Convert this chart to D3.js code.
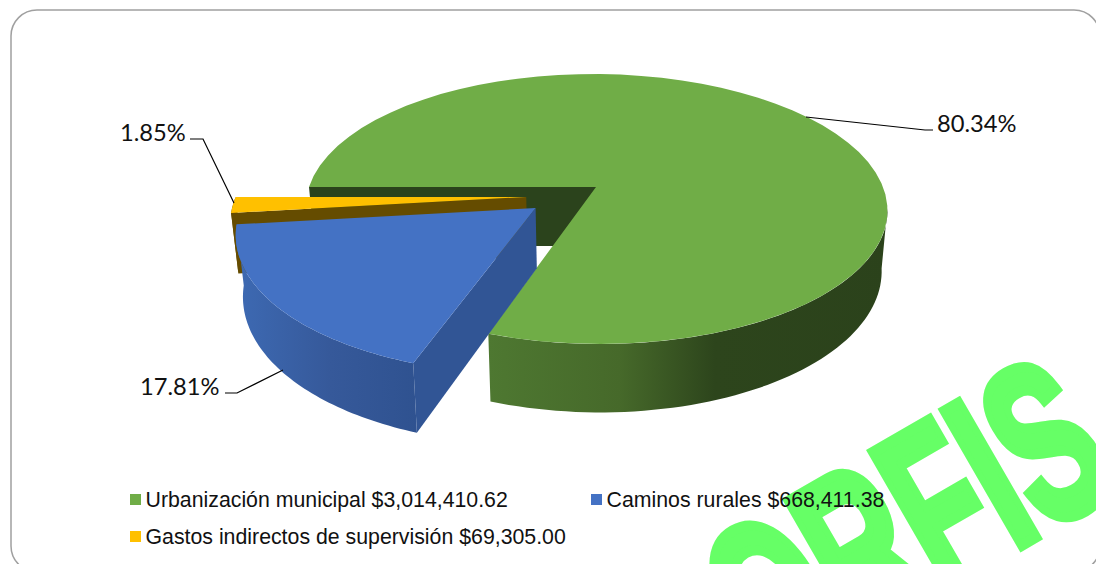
<!DOCTYPE html>
<html><head><meta charset="utf-8">
<script src="https://cdn.jsdelivr.net/npm/d3@7"></script>
<style>html,body{margin:0;padding:0;background:#fff;overflow:hidden}svg{display:block}</style>
</head><body><svg id="c" width="1096" height="564"></svg>
<script>
const categories = ["Urbanización municipal", "Caminos rurales", "Gastos indirectos de supervisión"];
const amounts = [3014410.62, 668411.38, 69305.00];
const amountLabels = ["$3,014,410.62", "$668,411.38", "$69,305.00"];
const percentLabels = ["80.34%", "17.81%", "1.85%"];
const colors = ["#70ad47", "#4472c4", "#ffc000"];
const explodeX = [0, -0.207, -0.241];
const explodeY = [0, -0.156, -0.075];

const svg = d3.select("#c");
const defs = svg.append("defs");
const CX = 596, CY = 187, R = 287, K = 131.4, P = 0.163, SHEAR = 0.027;
// perspective projection of the pie plane onto the screen
const project = (X, Y) => {
  const w = 1 + P * Y, sy = -K * Y / w;
  return [CX + R * X / w + SHEAR * sy, CY + sy];
};
const drop = ([x, y]) => [CX + (x - CX) * 0.98, CY + (y - CY) * 1.06 + 59];
const line = d3.line();
const pie = d3.pie().sort(null).startAngle(-Math.PI / 2).endAngle(Math.PI * 1.5);
const arcs = pie(amounts);

const rim = (a0, a1, ex, ey) => d3.range(0, 61).map(i => {
  const a = a0 + (a1 - a0) * i / 60;
  return project(Math.sin(a) + ex, Math.cos(a) + ey);
});
const poly = (pts, fill) => svg.append("path").attr("d", line(pts) + "Z").attr("fill", fill);
const grad = (id, stops) => {
  const g = defs.append("linearGradient").attr("id", id).attr("gradientUnits", "userSpaceOnUse")
    .attr("x1", stops[0][0]).attr("x2", stops[stops.length - 1][0]).attr("y1", 0).attr("y2", 0);
  const x0 = stops[0][0], x1 = stops[stops.length - 1][0];
  stops.forEach(s => g.append("stop").attr("offset", (s[0] - x0) / (x1 - x0)).attr("stop-color", s[1]));
  return `url(#${id})`;
};

// watermark
const wm = svg.append("g").attr("transform", "translate(766,693) rotate(-30) scale(0.6,1)");
wm.append("text").text("ORFIS").attr("font-family", "Liberation Sans, Arial, sans-serif")
  .attr("font-weight", 700).attr("font-size", 225).attr("fill", "#66ff66")
  .attr("stroke", "#66ff66").attr("stroke-width", 11).attr("stroke-linejoin", "miter");

// frame
svg.append("rect").attr("x", 11).attr("y", 10).attr("width", 1089).attr("height", 562)
  .attr("rx", 26).attr("fill", "none").attr("stroke", "#a0a0a0").attr("stroke-width", 1.5);

// green slice
const g = arcs[0];
const gStart = g.startAngle, gEnd = g.endAngle;
const apex0 = project(0, 0);
const backEdge = project(Math.sin(gStart), Math.cos(gStart));
poly([apex0, backEdge, drop(backEdge), drop(apex0)], "#2b431c");
const gSideTop = rim(Math.PI * 0.55, gEnd, 0, 0);
poly(gSideTop.concat(gSideTop.map(drop).reverse()),
  grad("gs", [[488, "#4e7831"], [620, "#46692a"], [715, "#2d451c"], [890, "#2b421b"]]));
poly([apex0].concat(rim(gStart, gEnd, 0, 0)), colors[0]);

// yellow slice
const y = arcs[2], ye = [explodeX[2], explodeY[2]];
const yApex = project(ye[0], ye[1]);
const yRim = rim(y.startAngle, y.endAngle, ye[0], ye[1]);
poly([yApex, yRim[0], drop(yRim[0]), drop(yApex)], "#654c00");
poly(yRim.concat(yRim.map(drop).reverse()), "#654c00");
poly([yApex].concat(yRim), colors[2]);

// blue slice
const b = arcs[1], be = [explodeX[1], explodeY[1]];
const bApex = project(be[0], be[1]);
const bRim = rim(b.startAngle, b.endAngle, be[0], be[1]);
poly(bRim.concat(bRim.map(drop).reverse()),
  grad("bs", [[240, "#3d69b2"], [330, "#36599a"], [418, "#2f5290"]]));
poly([bApex, bRim[0], drop(bRim[0]), drop(bApex)], "#315595");
poly([bApex].concat(bRim), colors[1]);

// leaders and labels
const leaders = [
  [[806,117],[925,130],[933,130]],
  [[283,370],[237,393],[225,393]],
  [[234,203],[203,139],[190,139]]
];
const labelPos = [[937,132],[140,395],[120,141]];
leaders.forEach(l => svg.append("path").attr("d", line(l)).attr("fill", "none").attr("stroke", "#000").attr("stroke-width", 1.2));
percentLabels.forEach((t, i) => svg.append("text").text(t).attr("x", labelPos[i][0]).attr("y", labelPos[i][1])
  .attr("font-family", "Lato, sans-serif").attr("font-size", 23.7).attr("fill", "#111"));

// legend
const legendPos = [[130,507],[591,507],[130,544]];
categories.forEach((c, i) => {
  const [lx, ly] = legendPos[i];
  svg.append("rect").attr("x", lx).attr("y", ly - 13).attr("width", 11).attr("height", 11).attr("fill", colors[i]);
  svg.append("text").text(c + " " + amountLabels[i]).attr("x", lx + 15.5).attr("y", ly)
    .attr("font-family", "Liberation Sans, Arial, sans-serif").attr("font-size", 21.3).attr("fill", "#111");
});
</script></body></html>
